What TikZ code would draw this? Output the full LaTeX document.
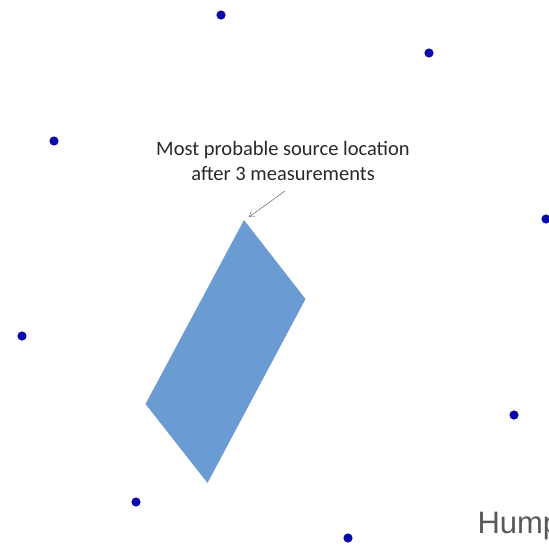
\documentclass[tikz,border=0pt]{standalone}
\usepackage{fontspec}
\setmainfont{Carlito}
\newfontfamily\humpfont{Liberation Sans}
\usetikzlibrary{arrows.meta,positioning}
\definecolor{areablue}{RGB}{106,155,210}
\definecolor{dotblue}{RGB}{10,10,170}
\definecolor{labelgray}{RGB}{40,40,40}
\begin{document}
\begin{tikzpicture}[x=1pt, y=-1pt, >={Straight Barb[length=5pt,width=7pt]},
  sensor/.style={fill=dotblue}]
  \useasboundingbox (0,0) rectangle (549,547);
  \clip (0,0) rectangle (549,547);
  % sensor positions
  \foreach \x/\y in {221/15, 429/53, 54/141, 546/219, 22/336, 514/415, 136/502, 348/538}
    \fill[sensor] (\x,\y) circle (4.6);
  % likely region
  \coordinate (top) at (244,220);
  \coordinate (right) at (305.5,299);
  \coordinate (bottom) at (207.5,483);
  \coordinate (left) at (145.5,404);
  \fill[areablue] (top) -- (right) -- (bottom) -- (left) -- cycle;
  \node[font=\fontsize{20.5}{25}\selectfont, text=labelgray, align=center] (label) at (283,161)
    {Most probable source location\\after 3 measurements};
  \coordinate (tail) at (285,191);
  \draw[->, gray!60!black, thin] (tail) -- ([shift={(5,-3)}]top);
  \node[font=\humpfont\fontsize{31}{36}\selectfont, text=black!65, anchor=base west] (hump) at (474,533) {Humphreys};
\end{tikzpicture}
\end{document}
